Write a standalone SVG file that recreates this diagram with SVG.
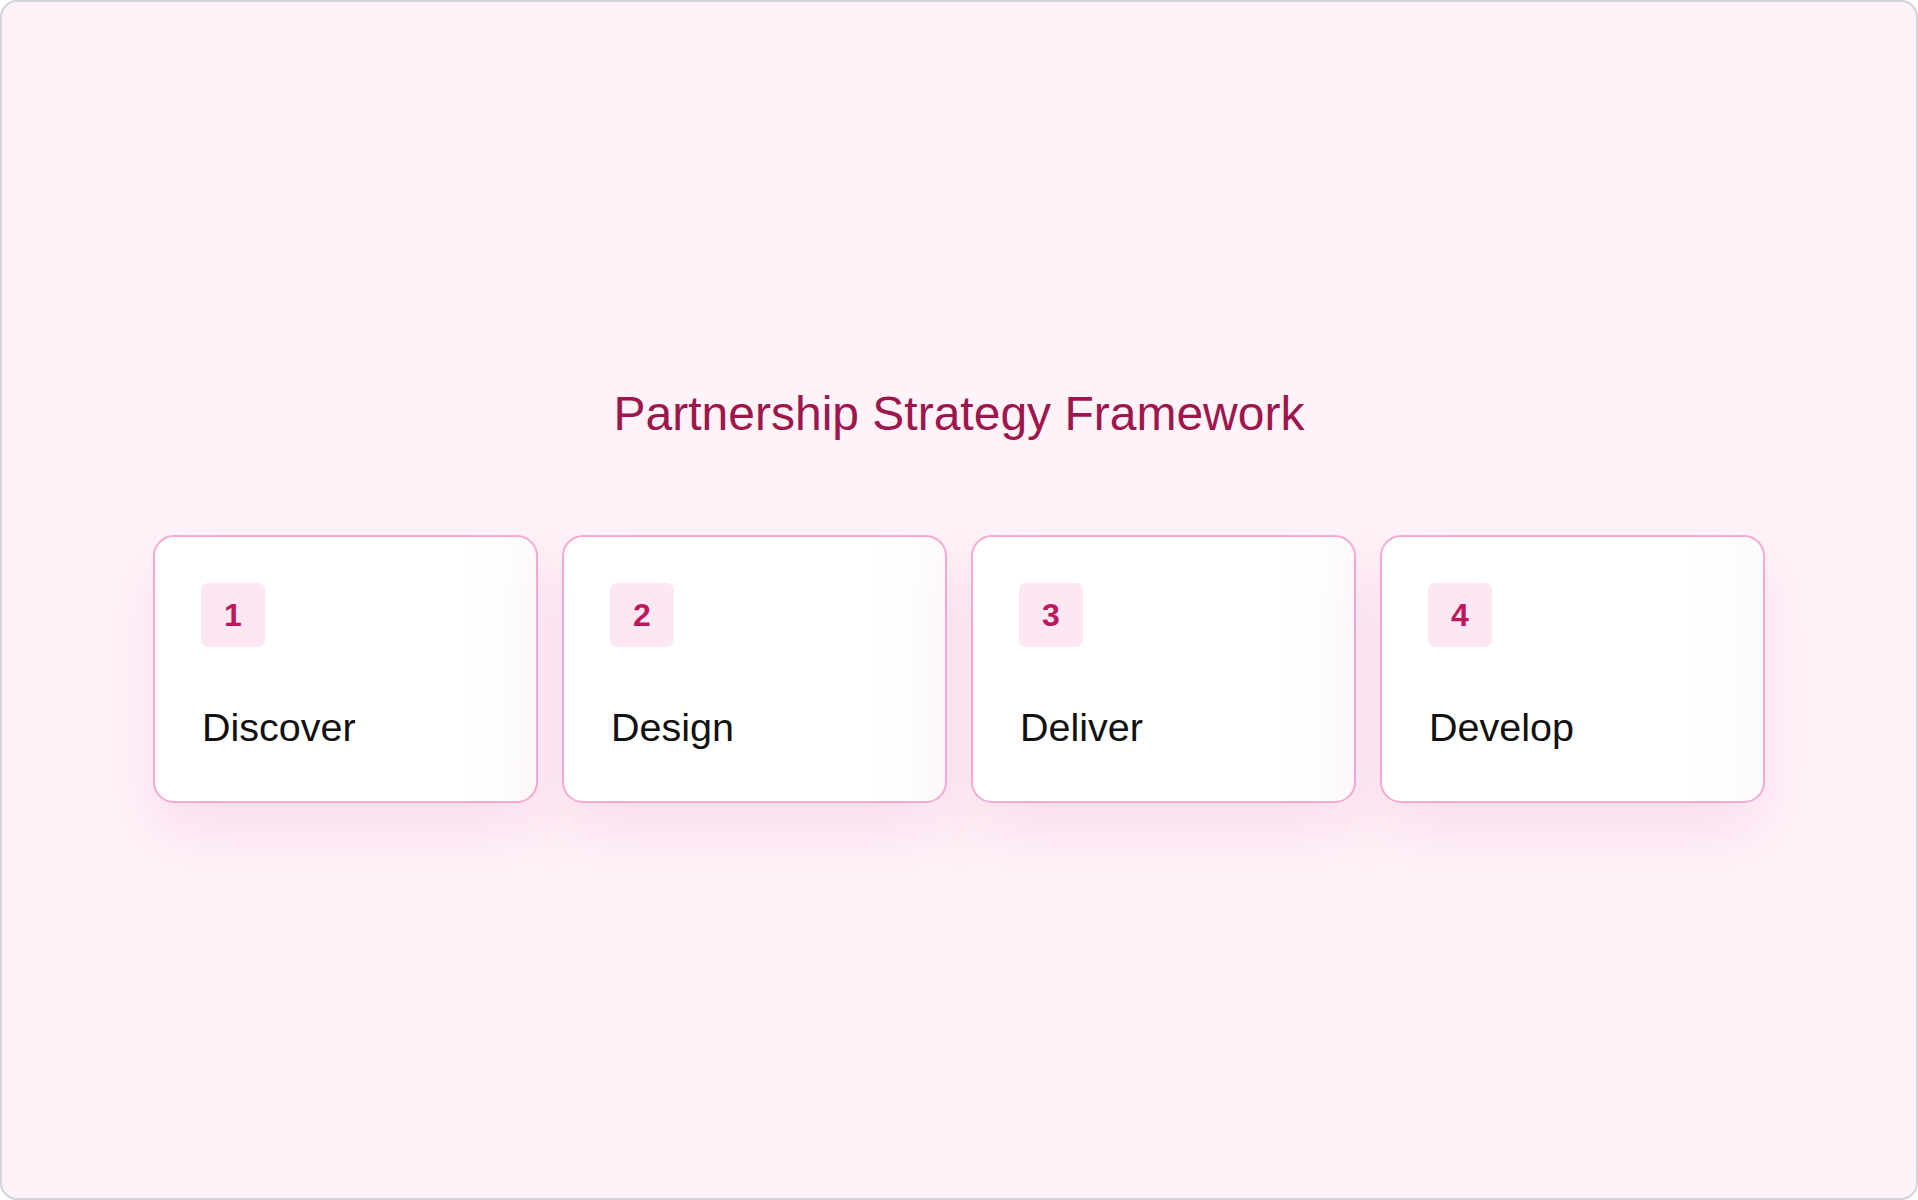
<svg xmlns="http://www.w3.org/2000/svg" width="1918" height="1200" viewBox="0 0 1918 1200">
<defs>
<style>
.card{fill:url(#cardGrad);stroke:#f9a8d4;stroke-width:2}
.badge{fill:#fce7f3}
.num{font-family:"Liberation Sans",Arial,sans-serif;font-size:32px;font-weight:600;fill:#be185d;text-anchor:middle}
.label{font-family:"Liberation Sans",Arial,sans-serif;font-size:39.5px;fill:#111111}
.title{font-family:"Liberation Sans",Arial,sans-serif;font-size:48px;fill:#9d174d;text-anchor:middle}
</style>
<linearGradient id="cardGrad" x1="0" y1="0" x2="1" y2="0">
<stop offset="0" stop-color="#ffffff"/>
<stop offset="0.8" stop-color="#ffffff"/>
<stop offset="1" stop-color="#fdfafc"/>
</linearGradient>
<filter id="shadow" x="-30%" y="-30%" width="160%" height="190%">
<feDropShadow dx="0" dy="30" stdDeviation="30" flood-color="#be185d" flood-opacity="0.09"/>
</filter>
</defs>
<rect x="1" y="1" width="1916" height="1198" rx="16" fill="#fff3f9" stroke="#d1d5db" stroke-width="2"/>
<text class="title" x="959" y="430">Partnership Strategy Framework</text>
<g id="connectors"></g>
<g id="node-1">
<rect class="card" x="154" y="536" width="383" height="266" rx="20" filter="url(#shadow)"/>
<rect class="badge" x="201" y="583" width="64" height="64" rx="7"/>
<text class="num" x="233" y="626">1</text>
<text class="label" x="202" y="741">Discover</text>
</g>
<g id="node-2">
<rect class="card" x="563" y="536" width="383" height="266" rx="20" filter="url(#shadow)"/>
<rect class="badge" x="610" y="583" width="64" height="64" rx="7"/>
<text class="num" x="642" y="626">2</text>
<text class="label" x="611" y="741">Design</text>
</g>
<g id="node-3">
<rect class="card" x="972" y="536" width="383" height="266" rx="20" filter="url(#shadow)"/>
<rect class="badge" x="1019" y="583" width="64" height="64" rx="7"/>
<text class="num" x="1051" y="626">3</text>
<text class="label" x="1020" y="741">Deliver</text>
</g>
<g id="node-4">
<rect class="card" x="1381" y="536" width="383" height="266" rx="20" filter="url(#shadow)"/>
<rect class="badge" x="1428" y="583" width="64" height="64" rx="7"/>
<text class="num" x="1460" y="626">4</text>
<text class="label" x="1429" y="741">Develop</text>
</g>
</svg>
